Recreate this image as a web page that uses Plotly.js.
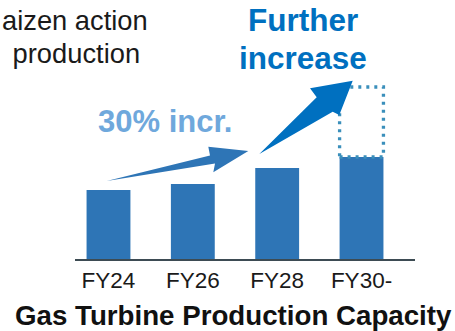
<!DOCTYPE html>
<html>
<head>
<meta charset="utf-8">
<script src="https://cdn.plot.ly/plotly-3.0.1.min.js"></script>
<style>
html,body{margin:0;padding:0;background:#fff;}
#chart{width:455px;height:331px;}
</style>
</head>
<body>
<div id="chart"></div>
<script>
// ---- data ----
const categories = ['FY24', 'FY26', 'FY28', 'FY30-'];
const capacity = [69, 75, 91, 102];
const futureTarget = 172;   // dotted "further increase" target for the last category
const noteLines = ['aizen action', ' production'];
const growthLabel = '30% incr.';
const furtherLines = ['Further', 'increase'];
const chartTitle = 'Gas Turbine Production Capacity';

// ---- layout helpers (pixel -> paper) ----
const L = 75, R = 415, T = 79, B = 259;
const px = x => (x - L) / (R - L);
const py = y => (B - y) / (B - T);
const path = pts => 'M' + pts.map(p => px(p[0]).toFixed(4) + ',' + py(p[1]).toFixed(4)).join(' L') + ' Z';

const FONT = 'Liberation Sans, Arial, sans-serif';
const barW = 0.52;
const lastIdx = categories.length - 1;

const trace = {
  type: 'bar',
  x: categories,
  y: capacity,
  width: barW,
  marker: {color: '#2E75B6', line: {width: 0}},
  hoverinfo: 'skip'
};

const arrow1 = [[106.7,181],[210,155.5],[208.3,146.7],[248.3,151],[213.3,172.3],[215,163.5]];
const arrow2 = [[259.3,154],[316.7,97.3],[310,88.3],[352.7,80.7],[339.3,115],[332.7,111.7]];

const layout = {
  width: 455, height: 331,
  margin: {l: L, r: 455 - R, t: T, b: 331 - B, pad: 0},
  paper_bgcolor: '#fff', plot_bgcolor: '#fff',
  showlegend: false,
  font: {family: FONT, color: '#1a1a1a'},
  xaxis: {
    type: 'category',
    range: [-0.397, 3.634],
    showline: true, linecolor: '#3d4b53', linewidth: 2,
    showgrid: false, zeroline: false, ticks: '',
    tickfont: {size: 22.5, family: FONT, color: '#1a1a1a'},
    fixedrange: true
  },
  yaxis: {range: [0, 180], visible: false, fixedrange: true},
  shapes: [
    {type: 'rect', xref: 'x', yref: 'y',
     x0: lastIdx - barW / 2, x1: lastIdx + barW / 2,
     y0: capacity[lastIdx], y1: futureTarget,
     line: {color: '#3A8FBB', width: 3.3, dash: '3px,5px'}, fillcolor: 'rgba(0,0,0,0)'},
    {type: 'path', xref: 'paper', yref: 'paper', path: path(arrow1),
     fillcolor: '#2E75B6', line: {width: 0}},
    {type: 'path', xref: 'paper', yref: 'paper', path: path(arrow2),
     fillcolor: '#0070C0', line: {width: 0}}
  ],
  annotations: [
    {text: noteLines[0], xref: 'paper', yref: 'paper', x: px(150), y: py(20),
     xanchor: 'right', yanchor: 'middle', showarrow: false,
     font: {size: 27.3, family: FONT, color: '#1a1a1a'}},
    {text: noteLines[1], xref: 'paper', yref: 'paper', x: px(142), y: py(53),
     xanchor: 'right', yanchor: 'middle', showarrow: false,
     font: {size: 27.3, family: FONT, color: '#1a1a1a'}},
    {text: furtherLines[0], xref: 'paper', yref: 'paper', x: px(303), y: py(20),
     xanchor: 'center', yanchor: 'middle', showarrow: false,
     font: {size: 31.5, family: FONT, color: '#0070C0', weight: 'bold'}},
    {text: furtherLines[1], xref: 'paper', yref: 'paper', x: px(303), y: py(58),
     xanchor: 'center', yanchor: 'middle', showarrow: false,
     font: {size: 31.5, family: FONT, color: '#0070C0', weight: 'bold'}},
    {text: growthLabel, xref: 'paper', yref: 'paper', x: px(164.5), y: py(121),
     xanchor: 'center', yanchor: 'middle', showarrow: false,
     font: {size: 31, family: FONT, color: '#6FA8DC', weight: 'bold'}},
    {text: chartTitle, xref: 'paper', yref: 'paper', x: px(233), y: py(315),
     xanchor: 'center', yanchor: 'middle', showarrow: false,
     font: {size: 27.7, family: FONT, color: '#111', weight: 'bold'}}
  ]
};

Plotly.newPlot('chart', [trace], layout, {displayModeBar: false, staticPlot: true});
</script>
</body>
</html>
